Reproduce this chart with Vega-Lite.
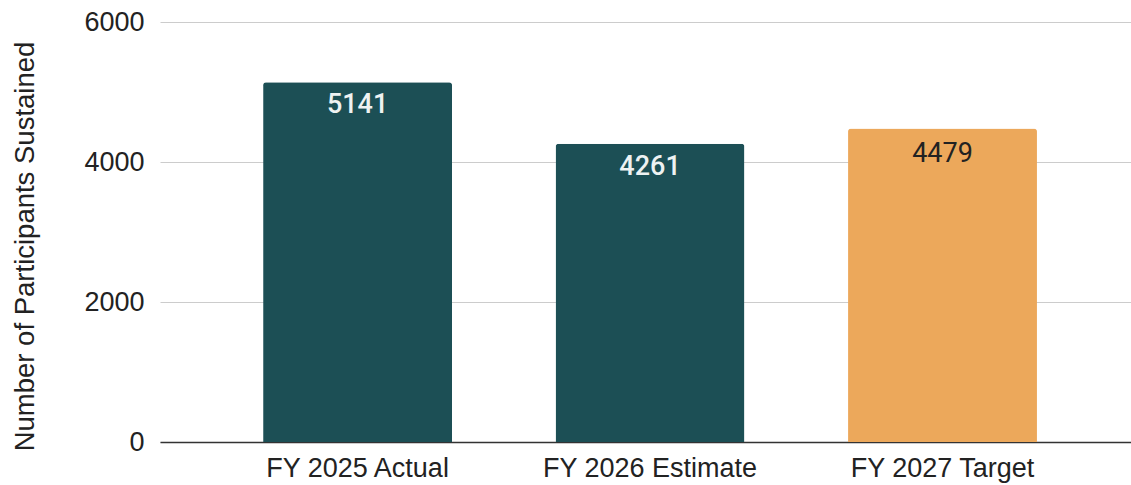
{
  "$schema": "https://vega.github.io/schema/vega-lite/v6.json",
  "width": 971,
  "height": 420,
  "autosize": "none",
  "padding": {"left": 160, "top": 22, "right": 0, "bottom": 43},
  "background": "white",
  "config": {"view": {"stroke": null}},
  "data": {
    "values": [
      {"category": "FY 2025 Actual", "value": 5141, "type": "actual"},
      {"category": "FY 2026 Estimate", "value": 4261, "type": "actual"},
      {"category": "FY 2027 Target", "value": 4479, "type": "target"}
    ]
  },
  "encoding": {
    "x": {
      "field": "category",
      "type": "nominal",
      "sort": null,
      "scale": {"paddingInner": 0.354, "paddingOuter": 0.337, "align": 0.523},
      "axis": {
        "title": null,
        "labelAngle": 0,
        "labelLimit": 0,
        "labelFont": "Liberation Sans",
        "labelFontSize": 27,
        "labelColor": "#222222",
        "labelPadding": 13,
        "ticks": false,
        "tickSize": 0,
        "domainColor": "#333333",
        "domainWidth": 1.5,
        "grid": false
      }
    },
    "y": {
      "field": "value",
      "type": "quantitative",
      "scale": {"domain": [0, 6000], "nice": false},
      "axis": {
        "values": [0, 2000, 4000, 6000],
        "format": "d",
        "title": "Number of Participants Sustained",
        "titleFont": "Liberation Sans",
        "titleFontSize": 27.5,
        "titleFontWeight": "normal",
        "titleColor": "#222222",
        "titleAngle": -90,
        "titleAlign": "center",
        "titleBaseline": "alphabetic",
        "titleX": -126.5,
        "titleY": 224,
        "titleLimit": 0,
        "labelFont": "Liberation Sans",
        "labelFontSize": 27,
        "labelColor": "#222222",
        "labelPadding": 16,
        "ticks": false,
        "tickSize": 0,
        "domain": false,
        "grid": true,
        "gridColor": "#cccccc",
        "gridWidth": 1
      }
    }
  },
  "layer": [
    {
      "mark": {"type": "bar", "cornerRadiusTopLeft": 3, "cornerRadiusTopRight": 3},
      "encoding": {
        "color": {
          "field": "type",
          "type": "nominal",
          "scale": {"domain": ["actual", "target"], "range": ["#1c4f55", "#eca85b"]},
          "legend": null
        }
      }
    },
    {
      "transform": [{"filter": "datum.type === 'actual'"}],
      "mark": {"type": "text", "baseline": "top", "dy": 10, "font": "Roboto", "fontSize": 27, "fontWeight": 500, "color": "#eef2f2"},
      "encoding": {"text": {"field": "value", "type": "quantitative", "format": "d"}}
    },
    {
      "transform": [{"filter": "datum.type === 'target'"}],
      "mark": {"type": "text", "baseline": "top", "dy": 12.5, "font": "Roboto", "fontSize": 27, "fontWeight": 400, "color": "#222222"},
      "encoding": {"text": {"field": "value", "type": "quantitative", "format": "d"}}
    }
  ]
}
